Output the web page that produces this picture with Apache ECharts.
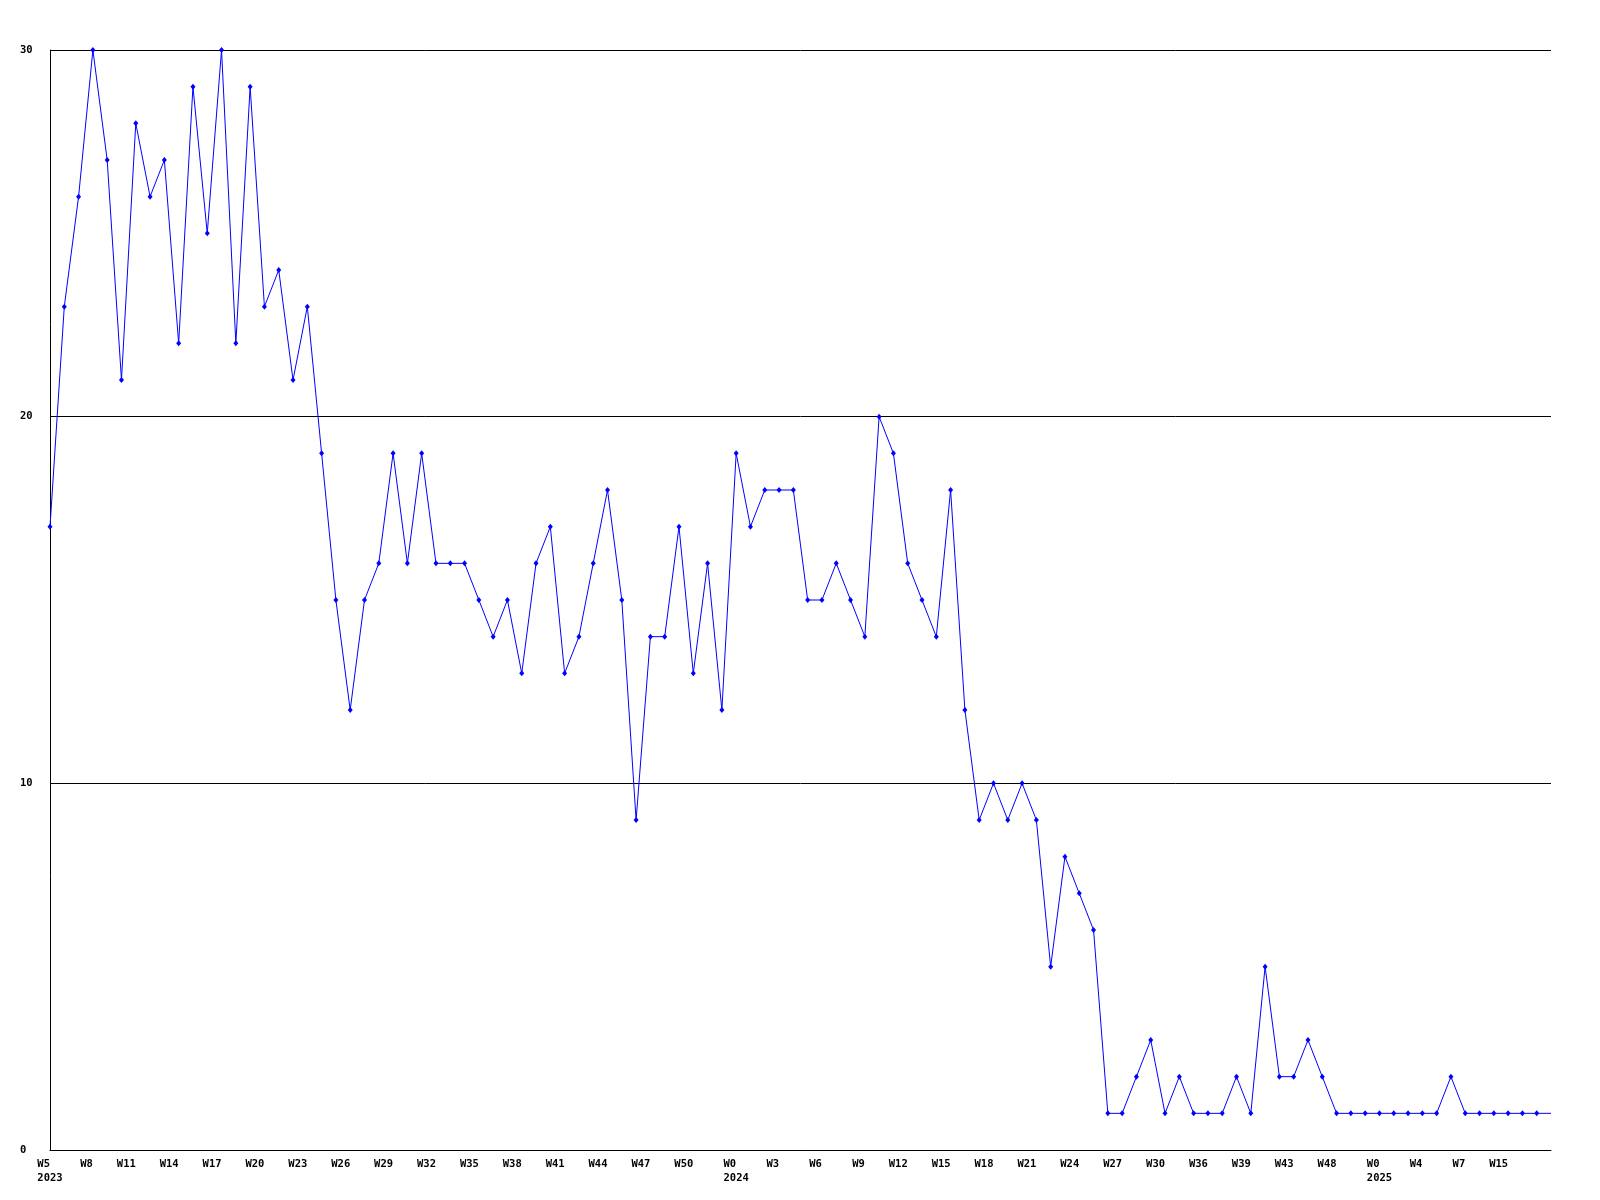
<!DOCTYPE html>
<html>
<head>
<meta charset="utf-8">
<script src="https://cdn.jsdelivr.net/npm/echarts@6/dist/echarts.min.js"></script>
<style>
html,body{margin:0;padding:0;background:#fff;}
#chart{width:1600px;height:1200px;}
</style>
</head>
<body>
<div id="chart"></div>
<script>
// Week labels (only every third one is displayed in the chart)
const weekLabels = [
  'W5\n2023','W6','W7','W8','W9','W10','W11','W12','W13','W14','W15','W16','W17','W18','W19','W20',
  'W21','W22','W23','W24','W25','W26','W27','W28','W29','W30','W31','W32','W33','W34','W35','W36',
  'W37','W38','W39','W40','W41','W42','W43','W44','W45','W46','W47','W48','W49','W50','W51','W52',
  'W0\n2024','W1','W2','W3','W4','W5','W6','W7','W8','W9','W10','W11','W12','W13','W14','W15',
  'W16','W17','W18','W19','W20','W21','W22','W23','W24','W25','W26','W27','W28','W29','W30',
  '','','W36','','','W39','','','W43','','','W48','','',
  'W0\n2025','','','W4','','','W7','','','W15','','',''
];

const counts = [
  17,23,26,30,27,21,28,26,27,22,29,25,30,22,29,23,24,21,23,
  19,15,12,15,16,19,16,19,16,16,16,15,14,15,13,16,17,13,14,16,18,15,9,14,14,17,13,16,12,
  19,17,18,18,18,15,15,16,15,14,20,19,16,15,14,18,12,9,10,9,10,9,5,8,7,6,
  1,1,2,3,1,2,1,1,1,2,1,5,2,2,3,2,1,1,1,1,1,1,1,1,2,1,1,1,1,1,1,
  1
];

const yTicks = { min: 0, max: 30, step: 10 };

const seriesData = counts.map((v, i) =>
  i === counts.length - 1 ? { value: v, symbol: 'none' } : v
);

const chart = echarts.init(document.getElementById('chart'), null, { renderer: 'canvas' });
const labelFont = {
  fontFamily: 'DejaVu Sans Mono',
  fontWeight: 'bold',
  fontSize: 10.5,
  color: '#000'
};
chart.setOption({
  animation: false,
  backgroundColor: '#ffffff',
  grid: { left: 50, right: 49, top: 50, bottom: 50, containLabel: false },
  xAxis: {
    type: 'category',
    data: weekLabels,
    boundaryGap: false,
    axisLine: { show: true, lineStyle: { color: '#000', width: 1 } },
    axisTick: { show: false },
    splitLine: { show: false },
    axisLabel: Object.assign({
      interval: 2,
      margin: 7,
      lineHeight: 14,
      align: 'center',
      verticalAlign: 'top',
      formatter: function (val) {
        if (!val) return '';
        const parts = val.split('\n');
        parts[0] = parts[0] + ' '.repeat(parts[0].length);
        return parts.join('\n');
      }
    }, labelFont)
  },
  yAxis: {
    type: 'value',
    min: yTicks.min,
    max: yTicks.max,
    interval: yTicks.step,
    axisLine: { show: true, lineStyle: { color: '#000', width: 1 } },
    axisTick: { show: false },
    splitLine: { show: true, lineStyle: { color: '#000', width: 1 } },
    axisLabel: Object.assign({
      align: 'left',
      margin: 30
    }, labelFont)
  },
  series: [{
    type: 'line',
    data: seriesData,
    symbol: 'diamond',
    symbolSize: [5, 6],
    showSymbol: true,
    showAllSymbol: true,
    itemStyle: { color: '#0000ff' },
    lineStyle: { color: '#0000ff', width: 1 },
    emphasis: { disabled: true }
  }]
});
</script>
</body>
</html>
